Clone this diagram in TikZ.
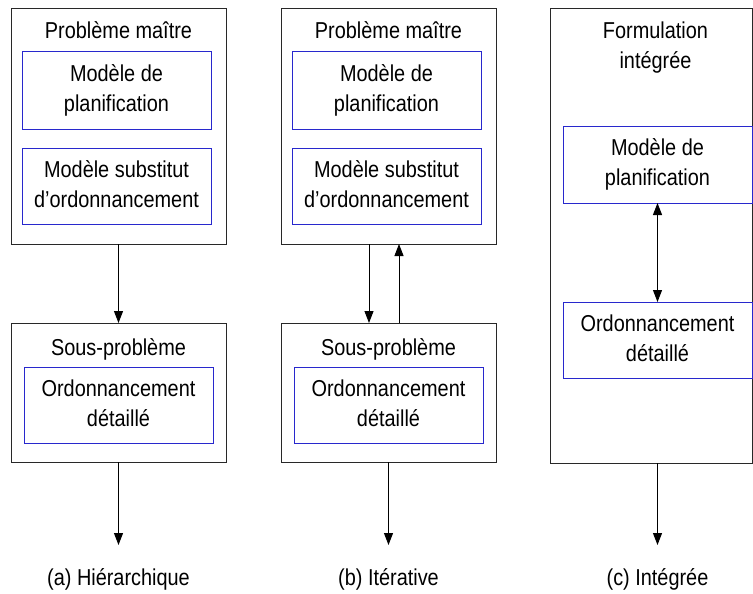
\documentclass[tikz,border=0pt]{standalone}
\usepackage{fontspec}
\usepackage{graphicx}
\setmainfont{Liberation Sans}
\usetikzlibrary{arrows.meta}
\definecolor{innerblue}{RGB}{40,40,205}
\definecolor{outergray}{RGB}{40,40,40}
\newcommand{\nt}[1]{\scalebox{0.865}[1]{\fontsize{23}{30}\selectfont\begin{tabular}{@{}c@{}}#1\end{tabular}}}
\begin{document}
\begin{tikzpicture}[x=1pt,y=-1pt,
  txt/.style={inner sep=0pt, outer sep=0pt},
  outerbox/.style={draw=outergray, line width=1pt, inner sep=0pt, outer sep=0pt},
  innerbox/.style={draw=innerblue, line width=1pt, inner sep=0pt, outer sep=0pt, minimum width=189pt},
  arr/.style={draw=black, line width=1pt, -{Triangle[length=12pt,width=9pt]}},
  darr/.style={draw=black, line width=1pt, {Triangle[length=12pt,width=9pt]}-{Triangle[length=12pt,width=9pt]}}
]
\useasboundingbox (0,0) rectangle (753,594);

% ---------- Panel A ----------
\node[outerbox, minimum width=215pt, minimum height=235pt] (oA) at (118.5,126.5) {};
\node[txt] (tA) at (118.5,33) {\nt{Problème maître}};
\node[innerbox, minimum height=77pt] (a1) at (116.5,90.5) {\nt{Modèle de\\planification}};
\node[innerbox, minimum height=76pt] (a2) at (116.5,186) {\nt{Modèle substitut\\d’ordonnancement}};
\node[outerbox, minimum width=215pt, minimum height=139pt] (sA) at (118.5,392.5) {};
\node[txt] (tsA) at (118.5,349) {\nt{Sous-problème}};
\node[innerbox, minimum height=76pt] (a3) at (118.5,405) {\nt{Ordonnancement\\détaillé}};
\coordinate (endA) at (118.5,545);
\draw[arr] (oA.south) -- (sA.north);
\draw[arr] (sA.south) -- (endA);
\node[txt] (lA) at (118.5,579) {\nt{(a) Hiérarchique}};

% ---------- Panel B ----------
\node[outerbox, minimum width=215pt, minimum height=235pt] (oB) at (388.5,126.5) {};
\node[txt] (tB) at (388.5,33) {\nt{Problème maître}};
\node[innerbox, minimum height=77pt] (b1) at (386.5,90.5) {\nt{Modèle de\\planification}};
\node[innerbox, minimum height=76pt] (b2) at (386.5,186) {\nt{Modèle substitut\\d’ordonnancement}};
\node[outerbox, minimum width=215pt, minimum height=139pt] (sB) at (388.5,392.5) {};
\node[txt] (tsB) at (388.5,349) {\nt{Sous-problème}};
\node[innerbox, minimum height=76pt] (b3) at (388.5,405) {\nt{Ordonnancement\\détaillé}};
\coordinate (bdown) at (369,0);
\coordinate (bup) at (399,0);
\coordinate (endB) at (388.5,545);
\draw[arr] (bdown |- oB.south) -- (bdown |- sB.north);
\draw[arr] (bup |- sB.north) -- (bup |- oB.south);
\draw[arr] (sB.south) -- (endB);
\node[txt] (lB) at (388.5,579) {\nt{(b) Itérative}};

% ---------- Panel C ----------
\node[outerbox, minimum width=202.5pt, minimum height=454pt] (oC) at (651.25,236) {};
\node[txt] (tC) at (655.5,48) {\nt{Formulation\\intégrée}};
\node[innerbox, minimum height=77pt] (c1) at (657.5,164.5) {\nt{Modèle de\\planification}};
\node[innerbox, minimum height=76pt] (c2) at (657.5,340) {\nt{Ordonnancement\\détaillé}};
\coordinate (endC) at (657.5,545);
\draw[darr] (c1.south) -- (c2.north);
\draw[arr] (c2.south |- oC.south) -- (endC);
\node[txt] (lC) at (657.5,579) {\nt{(c) Intégrée}};
\end{tikzpicture}
\end{document}
